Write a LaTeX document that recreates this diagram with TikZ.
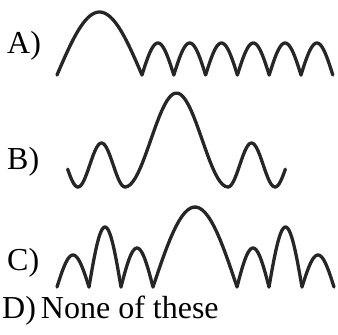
\documentclass[tikz,border=0pt]{standalone}
\usepackage{fontspec}
\setmainfont{Liberation Serif}
\usepackage{tikz}

\begin{document}
\begin{tikzpicture}[
  x=1pt, y=-1pt,
  wave/.style   = {draw=black!85, line width=3.3pt, line cap=round, line join=round},
  optlab/.style = {anchor=base west, inner sep=0pt, font=\fontsize{32}{38}\selectfont},
]

\useasboundingbox (0,0) rectangle (338,335);

% option labels
\node[optlab] (labA) at (7,53)  {A)};
\node[optlab] (labB) at (7,169) {B)};
\node[optlab] (labC) at (7,270) {C)};
\node[optlab] (labD) at (2,318) {D)\kern5pt None of these};

% A: one wide arch, then six narrow ones
\draw[wave] plot[domain=0:1, samples=40] ({57+85*\x}, {75-63*sin(180*\x)});
\foreach \xa in {142, 173.8, 205.6, 237.4, 269.2, 301}{
  \draw[wave] plot[domain=0:1, samples=30] ({\xa+31.8*\x}, {75-32*sin(180*\x)});
}

% B: smooth lobes, tall one in the middle
\draw[wave] plot[domain=0.78:1, samples=15] ({31+47*\x}, {187-22*(1-cos(360*\x))});
\foreach \xa/\w/\h in {78/47/44, 125/103/94, 228/47/44}{
  \draw[wave] plot[domain=0:1, samples=40] ({\xa+\w*\x}, {187-\h/2*(1-cos(360*\x))});
}
\draw[wave] plot[domain=0:0.22, samples=15] ({275+47*\x}, {187-22*(1-cos(360*\x))});

% C: arches of unequal height
\foreach \xa/\xb/\h in {57/89/32, 89/121/60, 121/153/39, 153/237/80,
                        237/269/39, 269/302/60, 302/334/32}{
  \draw[wave] plot[domain=0:1, samples=30] ({\xa+(\xb-\xa)*\x}, {287-\h*sin(180*\x)});
}

\end{tikzpicture}
\end{document}
